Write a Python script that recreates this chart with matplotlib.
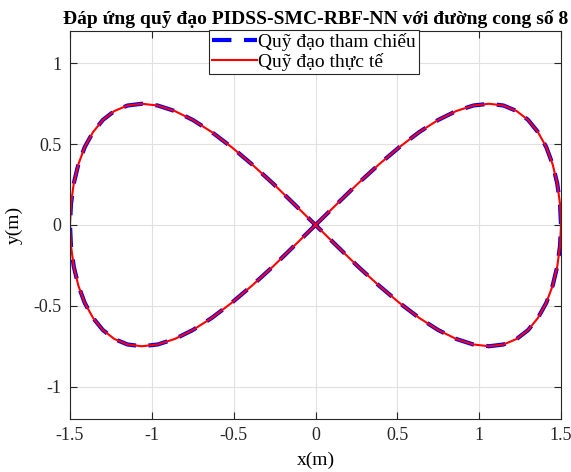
import numpy as np
import matplotlib
matplotlib.use("Agg")
import matplotlib.pyplot as plt

plt.rcParams['font.family'] = ['Liberation Serif', 'DejaVu Serif']
plt.rcParams['lines.scale_dashes'] = False

# === Data (one point every ~5 deg along the path) ===
x_ref = [0.000, 0.131, 0.260, 0.388, 0.513, 0.634, 0.750, 0.860, 0.964, 1.061,
         1.149, 1.229, 1.299, 1.359, 1.410, 1.449, 1.477, 1.494, 1.500,
         1.494, 1.477, 1.449, 1.410, 1.359, 1.299, 1.229, 1.149, 1.061, 0.964,
         0.860, 0.750, 0.634, 0.513, 0.388, 0.260, 0.131, 0.000,
         -0.131, -0.260, -0.388, -0.513, -0.634, -0.750, -0.860, -0.964, -1.061,
         -1.149, -1.229, -1.299, -1.359, -1.410, -1.449, -1.477, -1.494, -1.500,
         -1.494, -1.477, -1.449, -1.410, -1.359, -1.299, -1.229, -1.149, -1.061,
         -0.964, -0.860, -0.750, -0.634, -0.513, -0.388, -0.260, -0.131, 0.000]
y_ref = [0.000, 0.130, 0.257, 0.375, 0.482, 0.575, 0.650, 0.705, 0.739, 0.750,
         0.739, 0.705, 0.650, 0.575, 0.482, 0.375, 0.257, 0.130, 0.000,
         -0.130, -0.257, -0.375, -0.482, -0.575, -0.650, -0.705, -0.739, -0.750,
         -0.739, -0.705, -0.650, -0.575, -0.482, -0.375, -0.257, -0.130, 0.000,
         0.130, 0.257, 0.375, 0.482, 0.575, 0.650, 0.705, 0.739, 0.750,
         0.739, 0.705, 0.650, 0.575, 0.482, 0.375, 0.257, 0.130, 0.000,
         -0.130, -0.257, -0.375, -0.482, -0.575, -0.650, -0.705, -0.739, -0.750,
         -0.739, -0.705, -0.650, -0.575, -0.482, -0.375, -0.257, -0.130, 0.000]

# actual path sits on top of the reference everywhere in the picture
x_act = list(x_ref)
y_act = list(y_ref)

x_ticks = [-1.5, -1, -0.5, 0, 0.5, 1, 1.5]
x_tick_labels = ['-1.5', '-1', '-0.5', '0', '0.5', '1', '1.5']
y_ticks = [-1, -0.5, 0, 0.5, 1]
y_tick_labels = ['-1', '-0.5', '0', '0.5', '1']

# === Plot ===
fig = plt.figure(figsize=(5.71, 4.72), dpi=100)
ax = fig.add_axes([70 / 571, 1 - 419 / 472, 491 / 571, 388 / 472])

ax.plot(x_ref, y_ref, color='blue', linewidth=3.0, dashes=(14, 9),
        label='Quỹ đạo tham chiếu')
ax.plot(x_act, y_act, color='red', linewidth=1.5, label='Quỹ đạo thực tế')

ax.set_xlim(-1.5, 1.5)
ax.set_ylim(-1.2, 1.2)
ax.set_xticks(x_ticks)
ax.set_xticklabels(x_tick_labels)
ax.set_yticks(y_ticks)
ax.set_yticklabels(y_tick_labels)
ax.tick_params(direction='in', top=True, right=True, labelsize=13,
               length=5, width=0.8, colors='#262626', pad=6)
for s in ax.spines.values():
    s.set_color('#262626')
    s.set_linewidth(0.8)
ax.grid(True, color='#e0e0e0', linewidth=0.8)
ax.set_axisbelow(True)

ax.set_xlabel('x(m)', fontsize=14, labelpad=5)
ax.set_ylabel('y(m)', fontsize=14, labelpad=8)
ax.set_title('Đáp ứng quỹ đạo PIDSS-SMC-RBF-NN với đường cong số 8',
             fontsize=14, fontweight='bold', pad=5)

leg = ax.legend(loc='upper center', bbox_to_anchor=(0.497, 1.003), fontsize=14,
                handlelength=2.3, handletextpad=0.1, borderpad=0.15,
                labelspacing=0.1, borderaxespad=0, fancybox=False,
                framealpha=1, edgecolor='#262626')
leg.get_frame().set_linewidth(0.8)

fig.savefig('out.png', dpi=100)
